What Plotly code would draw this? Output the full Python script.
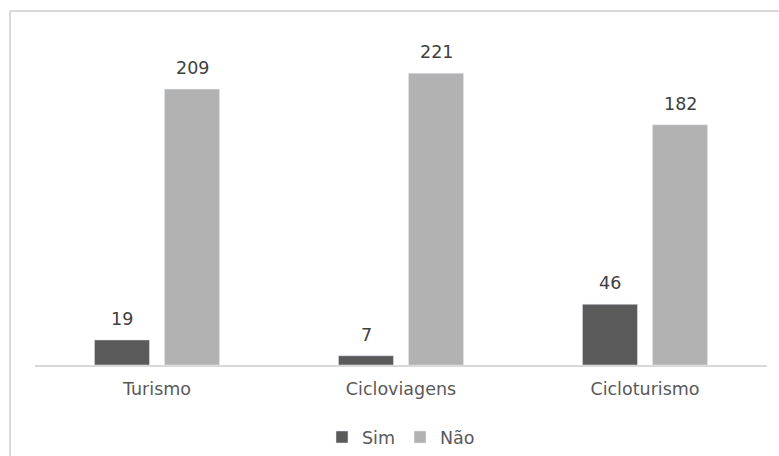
import plotly.graph_objects as go

categories = ["Turismo", "Cicloviagens", "Cicloturismo"]
sim = [19, 7, 46]
nao = [209, 221, 182]

W, H = 779, 456
ml, mr, mt, mb = 35, 12, 35, 91
pw, ph = W - ml - mr, H - mt - mb
FONT = "DejaVu Sans, Arial"
FS = 17.5

fig = go.Figure()
fig.add_trace(go.Bar(name="Sim", x=categories, y=sim, marker_color="#5a5a5a"))
fig.add_trace(go.Bar(name="Não", x=categories, y=nao, marker_color="#b2b2b2"))

# data labels
for series, shift in ((sim, -35), (nao, 35)):
    for c, v in zip(categories, series):
        fig.add_annotation(x=c, y=v, xref="x", yref="y", text=str(v), showarrow=False,
                           xshift=shift, yshift=9, yanchor="bottom",
                           font=dict(family=FONT, size=FS, color="#404040"))

# frame (top/left edges visible only)
fx0 = (10 - ml) / pw
fy1 = (H - mb - 11) / ph
fig.add_shape(type="line", xref="paper", yref="paper", x0=fx0, x1=1.5, y0=fy1, y1=fy1,
              line=dict(color="#d9d9d9", width=2))
fig.add_shape(type="line", xref="paper", yref="paper", x0=fx0, x1=fx0, y0=-0.5, y1=fy1,
              line=dict(color="#d9d9d9", width=2))

fig.update_layout(
    width=W, height=H,
    margin=dict(l=ml, r=mr, t=mt, b=mb, autoexpand=False),
    barmode="group", bargap=0.426, bargroupgap=0.214,
    plot_bgcolor="white", paper_bgcolor="white",
    font=dict(family=FONT, color="#595959", size=FS),
    showlegend=True,
    legend=dict(orientation="h", x=0.5, xanchor="center", y=-0.164, yanchor="top",
                font=dict(family=FONT, size=FS, color="#595959"), itemwidth=30,
                traceorder="normal"),
    xaxis=dict(showline=True, linecolor="#d9d9d9", linewidth=2, ticks="",
               ticklabelstandoff=7, automargin=False,
               tickfont=dict(family=FONT, size=FS, color="#595959")),
    yaxis=dict(range=[0, 250], visible=False, showgrid=False),
)

fig.write_html("out.html", config={"displayModeBar": False},
               post_script="document.body.style.margin='0px';")
